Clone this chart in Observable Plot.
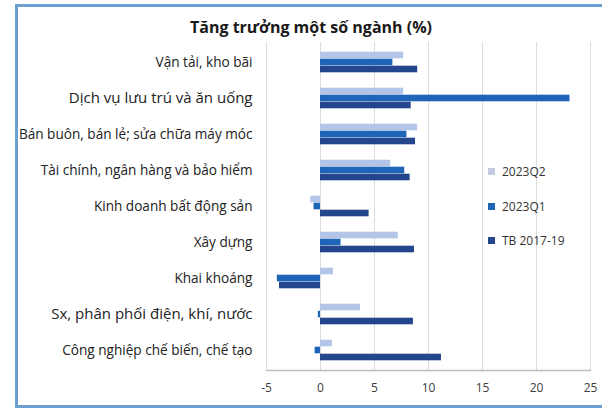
<!DOCTYPE html>
<html><head><meta charset="utf-8">
<script src="https://cdn.jsdelivr.net/npm/d3@7"></script>
<script src="https://cdn.jsdelivr.net/npm/@observablehq/plot@0.6"></script>
<style>
body{margin:0;background:#fff;width:602px;height:411px;position:relative;overflow:hidden;font-family:"Open Sans",Lato,sans-serif;}
#chart{position:absolute;left:0;top:0;}
#frame{position:absolute;left:15px;top:4px;width:620px;height:404px;border:3px solid #6b9fd0;box-sizing:border-box;pointer-events:none;}
#title{position:absolute;left:0;width:622px;top:16px;text-align:center;font-weight:bold;font-size:16px;color:#1a1a1a;}
#legend{position:absolute;left:488px;top:163px;font-size:12px;color:#333;}
#legend .item{position:absolute;left:0;white-space:nowrap;display:flex;align-items:center;}
#legend .sw{display:inline-block;width:7px;height:7px;margin-right:7px;}
</style></head><body>
<div id="chart"></div>
<div id="frame"></div>
<div id="title">Tăng trưởng một số ngành (%)</div>
<div id="legend"></div>
<script>
const categories = [
  "Vận tải, kho bãi",
  "Dịch vụ lưu trú và ăn uống",
  "Bán buôn, bán lẻ; sửa chữa máy móc",
  "Tài chính, ngân hàng và bảo hiểm",
  "Kinh doanh bất động sản",
  "Xây dựng",
  "Khai khoáng",
  "Sx, phân phối điện, khí, nước",
  "Công nghiệp chế biến, chế tạo"
];
const series = ["2023Q2", "2023Q1", "TB 2017-19"];
const q2 = [7.7, 7.7, 9.0, 6.5, -0.9, 7.2, 1.2, 3.7, 1.1];
const q1 = [6.7, 23.1, 8.0, 7.8, -0.6, 1.9, -4.0, -0.2, -0.5];
const tb = [9.0, 8.4, 8.8, 8.3, 4.5, 8.7, -3.8, 8.6, 11.2];
const xTicks = [-5, 0, 5, 10, 15, 20, 25];

const colors = ["#b3c5e8", "#1f65b7", "#24468c"];
const legendColors = ["#c4cbe2", "#1f65b7", "#24468c"];
const bigLabels = new Set(["Dịch vụ lưu trú và ăn uống", "Sx, phân phối điện, khí, nước"]);

const values = [q2, q1, tb];
const rows = categories.flatMap((c, i) => series.map((s, k) => ({category: c, series: s, value: values[k][i]})));

const barH = 7, pad = 7.7;
const chart = Plot.plot({
  width: 602, height: 411,
  marginLeft: 266, marginRight: 12, marginTop: 42, marginBottom: 41,
  style: {background: "transparent", fontFamily: "'Open Sans', Lato, sans-serif", fontSize: "12px", color: "#404040"},
  x: {domain: [-5, 25], ticks: xTicks, tickSize: 0, tickPadding: 13, label: null, tickFormat: d => String(d)},
  y: {domain: categories, padding: 0, axis: null},
  marks: [
    Plot.ruleX(xTicks, {stroke: "#dcdcdc", strokeWidth: 1}),
    ...series.map((s, k) => Plot.barX(rows.filter(d => d.series === s), {
      y: "category", x: "value", fill: colors[k],
      insetTop: pad + barH * k, insetBottom: pad + barH * (2 - k)
    })),
    Plot.text(rows.filter(d => d.series === series[1]), {
      y: "category", text: "category", frameAnchor: "left", textAnchor: "end", dx: -14,
      fill: "#222", fontSize: d => bigLabels.has(d.category) ? 15 : 13.6
    }),
    Plot.frame({anchor: "bottom", stroke: "#bdbdbd", strokeWidth: 1.5})
  ]
});
document.getElementById("chart").appendChild(chart);

const leg = d3.select("#legend");
const legTops = [0, 35, 69];
series.forEach((s, k) => {
  const it = leg.append("div").attr("class", "item").style("top", legTops[k] + "px");
  it.append("span").attr("class", "sw").style("background", legendColors[k]);
  it.append("span").text(s);
});
</script>
</body></html>
